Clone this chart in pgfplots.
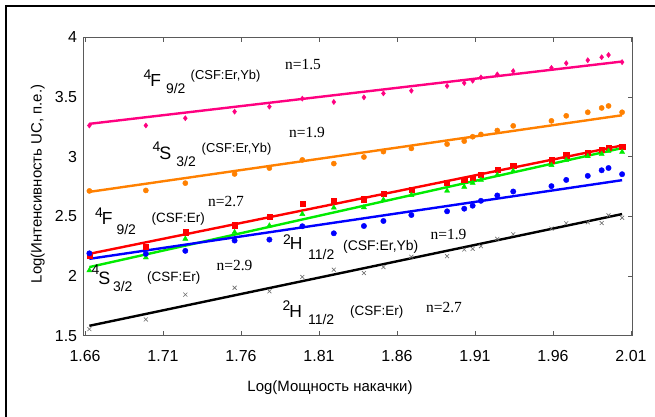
\documentclass[border=0pt]{standalone}
\usepackage{pgfplots}
\usepackage{pgfplotstable}
\pgfplotsset{compat=1.18}
\usepackage{fontspec}
\setmainfont{Liberation Sans}
\newfontfamily\serifn{Liberation Serif}
\definecolor{cpink}{RGB}{255,0,128}
\definecolor{corange}{RGB}{255,128,0}
\definecolor{cred}{RGB}{255,0,0}
\definecolor{cgreen}{RGB}{0,235,0}
\definecolor{cblue}{RGB}{0,0,255}
\definecolor{cxm}{RGB}{110,110,110}
\definecolor{axgray}{RGB}{90,90,90}
\newcommand{\fs}[1]{\fontsize{#1}{#1}\selectfont}
\newcommand{\lab}[4]{\node[anchor=base west,inner sep=0pt,font=\fs{#1}] at (#2,#3) {#4};}
\newcommand{\nlab}[3]{\node[anchor=base west,inner sep=0pt,font=\serifn\fs{15.5}] at (#1,#2) {#3};}
% \term{x}{base y}{sup}{main}{sub}{sup raise}{sub drop}{gap before sub}{main size}
\newcommand{\term}[9]{\node[anchor=base west,inner sep=0pt] at (#1,#2)
  {\raisebox{#6bp}{\fs{14}#3}\kern-1bp{\fs{#9}#4}\kern#8bp\raisebox{-#7bp}{\fs{14}#5}};}

\pgfplotstableread{
x      pink  orange red   green blue  black
1.6628 3.261 2.713 2.172 2.047 2.190 1.555
1.6990 3.261 2.717 2.247 2.155 2.186 1.636
1.7243 3.322 2.778 2.367 2.311 2.211 1.844
1.7559 3.377 2.855 2.425 2.367 2.297 1.902
1.7782 3.419 2.904 2.500 2.422 2.305 1.872
1.7993 3.486 2.973 2.608 2.519 2.417 1.992
1.8195 3.458 2.942 2.633 2.572 2.358 2.053
1.8388 3.497 2.997 2.644 2.575 2.419 2.025
1.8513 3.530 3.042 2.689 2.639 2.461 2.075
1.8692 3.552 3.069 2.725 2.678 2.511 2.161
1.8921 3.592 3.105 2.780 2.714 2.542 2.166
1.9031 3.617 3.130 2.810 2.747 2.564 2.222
1.9085 3.636 3.167 2.825 2.780 2.589 2.228
1.9138 3.664 3.186 2.852 2.805 2.630 2.250
1.9243 3.689 3.219 2.894 2.847 2.675 2.311
1.9345 3.717 3.258 2.922 2.880 2.708 2.350
1.9590 3.744 3.300 2.970 2.929 2.753 2.397
1.9685 3.783 3.342 3.013 2.972 2.805 2.442
1.9823 3.808 3.372 3.036 3.003 2.839 2.450
1.9912 3.833 3.408 3.055 3.022 2.886 2.444
1.9956 3.852 3.425 3.072 3.047 2.905 2.508
2.0043 3.792 3.372 3.086 3.039 2.853 2.488
}\datatab

\begin{document}
\begin{tikzpicture}
\useasboundingbox (-83.3bp,-81.3bp) rectangle (571.7bp,335.7bp);
\begin{axis}[
  at={(0,0)}, anchor=south west,
  scale only axis, width=549.4bp, height=298.4bp,
  xmin=1.6589, xmax=2.0111, ymin=1.5, ymax=4,
  clip=false,
  axis line style={draw=axgray, line width=0.8bp},
  tick style={draw=axgray, line width=0.8bp},
  tick align=inside, major tick length=4.5bp,
  xtick={1.66,1.71,1.76,1.81,1.86,1.91,1.96,2.01},
  xticklabels={1.66,1.71,1.76,1.81,1.86,1.91,1.96,2.01},
  ytick={1.5,2,2.5,3,3.5,4},
  yticklabels={1.5,2,2.5,3,3.5,4},
  xtick pos=both, ytick pos=right, yticklabel pos=left,
  xticklabel pos=lower,
  xticklabel style={font=\fs{16}, inner sep=0pt, anchor=north, yshift=-14.5bp},
  yticklabel style={font=\fs{16}, inner sep=0pt, anchor=east, xshift=-6bp},
]
\addplot[cpink, line width=2.4bp] coordinates {(1.6628,3.275) (2.0043,3.797)};
\addplot[corange, line width=2.4bp] coordinates {(1.6628,2.705) (2.0043,3.347)};
\addplot[cred, line width=2.4bp] coordinates {(1.6628,2.186) (2.0043,3.094)};
\addplot[cgreen, line width=2.4bp] coordinates {(1.6628,2.075) (2.0043,3.072)};
\addplot[cblue, line width=2.4bp] coordinates {(1.6628,2.144) (2.0043,2.803)};
\addplot[black, line width=2.4bp] coordinates {(1.6628,1.583) (2.0043,2.519)};

\addplot[only marks, mark=diamond*, mark size=2.6bp, cpink] table[x=x,y=pink]{\datatab};
\addplot[only marks, mark=*, mark size=2.6bp, corange] table[x=x,y=orange]{\datatab};
\addplot[only marks, mark=square*, mark size=2.6bp, cred] table[x=x,y=red]{\datatab};
\addplot[only marks, mark=triangle*, mark size=3bp, cgreen] table[x=x,y=green]{\datatab};
\addplot[only marks, mark=*, mark size=2.7bp, cblue] table[x=x,y=blue]{\datatab};
\addplot[only marks, mark=x, mark size=2.8bp, cxm, line width=0.6bp] table[x=x,y=black]{\datatab};
\end{axis}
\begin{scope}[shift={(-83.3bp,335.7bp)}, x=1bp, y=-1bp]
  \draw[line width=2.2bp] (6,417) -- (6,6.2) -- (655,6.2);
  % axis labels
  \node[anchor=base, inner sep=0pt, font=\fs{15}] at (330,392) {Log(Мощность накачки)};
  \node[anchor=base, inner sep=0pt, rotate=90, font=\fs{15}] at (41.7,184) {Log(Интенсивность UC, п.е.)};
  % 4F9/2 (CSF:Er,Yb)
  \term{143.5}{86.7}{4}{F}{9/2}{6.7}{6.6}{5}{17.5}
  \lab{13}{190.5}{80}{(CSF:Er,Yb)}
  \nlab{285}{70}{n=1.5}
  % 4S3/2 (CSF:Er,Yb)
  \term{152.5}{160}{4}{S}{3/2}{8}{6.5}{5}{18}
  \lab{13}{201.5}{153}{(CSF:Er,Yb)}
  \nlab{289}{138}{n=1.9}
  % 4F9/2 (CSF:Er)
  \term{95}{225}{4}{F}{9/2}{7.7}{9.5}{4}{17.5}
  \lab{13.5}{151.5}{223}{(CSF:Er)}
  \nlab{208}{206.7}{n=2.7}
  % 4S3/2 (CSF:Er)
  \term{91.5}{285}{4}{S}{3/2}{10}{6.5}{2.7}{18}
  \lab{13.5}{147}{282}{(CSF:Er)}
  \nlab{216.5}{270.5}{n=2.9}
  % 2H11/2 (CSF:Er,Yb)
  \term{283}{250}{2}{H}{11/2}{5}{10}{5.6}{17.5}
  \lab{14}{343}{251}{(CSF:Er,Yb)}
  \nlab{430.5}{240}{n=1.9}
  % 2H11/2 (CSF:Er)
  \term{282.5}{318}{2}{H}{11/2}{7.5}{7}{6}{17.5}
  \lab{13.5}{350}{316}{(CSF:Er)}
  \nlab{426}{313}{n=2.7}
\end{scope}
\end{tikzpicture}
\end{document}
